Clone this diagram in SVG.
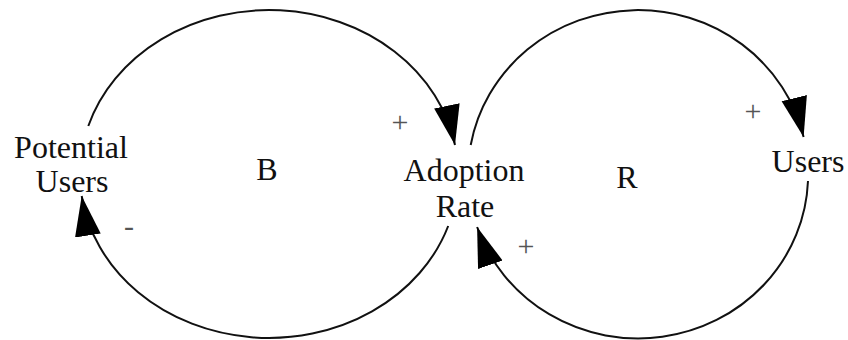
<svg xmlns="http://www.w3.org/2000/svg" width="848" height="340" viewBox="0 0 848 340">
<defs>
<marker id="ah" markerUnits="userSpaceOnUse" markerWidth="44" markerHeight="30" refX="40" refY="13" orient="auto">
<path d="M0,0 L40,13 L0,26 Z" fill="#000"/>
</marker>
</defs>
<rect width="848" height="340" fill="#fff"/>
<g id="connectors" fill="none" stroke="#111" stroke-width="2">
<path marker-end="url(#ah)" d="M88.3,126 A189,164 0 0 1 455,145"/>
<path marker-end="url(#ah)" d="M448.2,226 A189,164 0 0 1 81.7,196"/>
<path marker-end="url(#ah)" d="M470.7,145 A170,164 0 0 1 803.6,137"/>
<path marker-end="url(#ah)" d="M808,181 A170,164 0 0 1 477.1,227"/>
</g>
<g id="potential-users"><text x="71" y="158" font-family="Liberation Serif, serif" font-size="32" fill="#111" text-anchor="middle">Potential</text><text x="72" y="192" font-family="Liberation Serif, serif" font-size="32" fill="#111" text-anchor="middle">Users</text></g>
<g id="adoption-rate"><text x="464" y="181" font-family="Liberation Serif, serif" font-size="32" fill="#111" text-anchor="middle">Adoption</text><text x="465" y="217" font-family="Liberation Serif, serif" font-size="32" fill="#111" text-anchor="middle">Rate</text></g>
<g id="users"><text x="808" y="172" font-family="Liberation Serif, serif" font-size="32" fill="#111" text-anchor="middle">Users</text></g>
<g id="loop-b"><text x="267" y="180" font-family="Liberation Serif, serif" font-size="32" fill="#111" text-anchor="middle">B</text></g>
<g id="loop-r"><text x="627" y="188" font-family="Liberation Serif, serif" font-size="32" fill="#111" text-anchor="middle">R</text></g>
<g id="signs">
<text x="400" y="132" font-family="Liberation Serif, serif" font-size="30" fill="#555" text-anchor="middle">+</text>
<text x="129" y="236" font-family="Liberation Serif, serif" font-size="30" fill="#555" text-anchor="middle">-</text>
<text x="753" y="121" font-family="Liberation Serif, serif" font-size="30" fill="#555" text-anchor="middle">+</text>
<text x="526" y="256" font-family="Liberation Serif, serif" font-size="30" fill="#555" text-anchor="middle">+</text>
</g>
</svg>
